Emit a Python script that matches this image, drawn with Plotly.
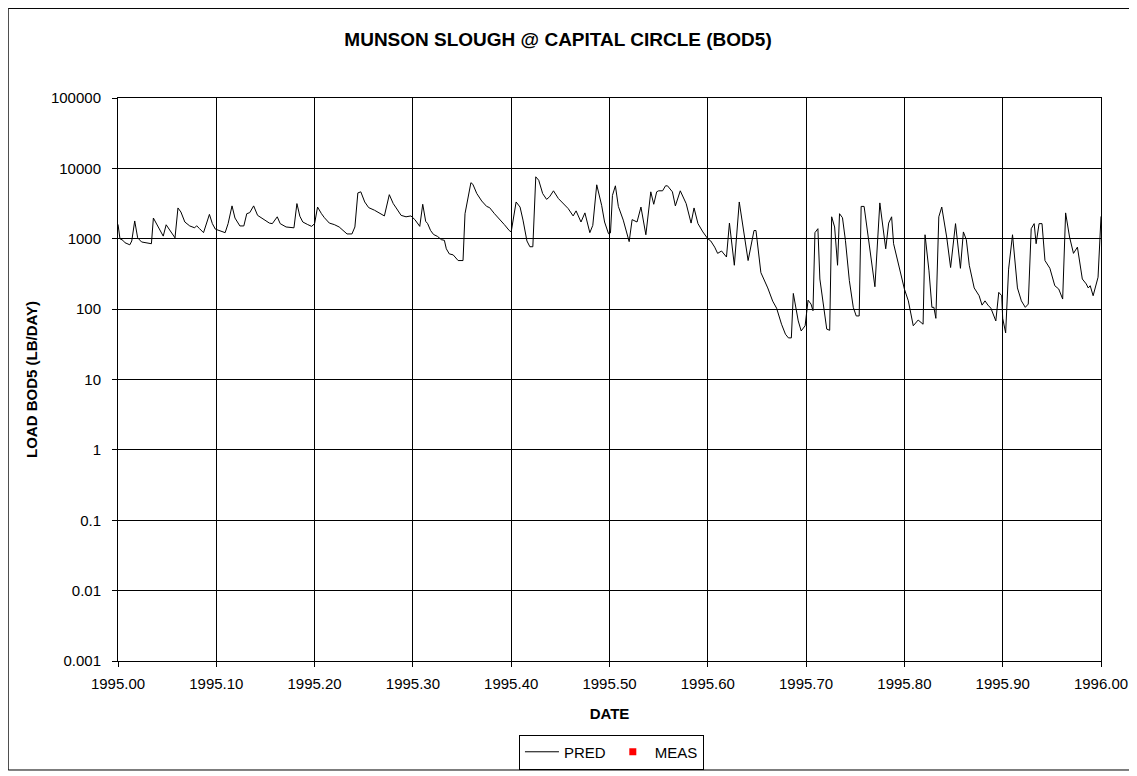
import plotly.graph_objects as go

# decimal-year dates and predicted load (lb/day)
date = [
    1995.000, 1995.002, 1995.005, 1995.007, 1995.012, 1995.014, 1995.017, 1995.020, 1995.024, 1995.029,
    1995.034, 1995.036, 1995.041, 1995.046, 1995.049, 1995.054, 1995.058, 1995.061, 1995.064, 1995.068,
    1995.073, 1995.078, 1995.080, 1995.083, 1995.087, 1995.093, 1995.096, 1995.099, 1995.103, 1995.109,
    1995.112, 1995.116, 1995.119, 1995.124, 1995.128, 1995.131, 1995.134, 1995.138, 1995.142, 1995.147,
    1995.154, 1995.157, 1995.162, 1995.165, 1995.171, 1995.179, 1995.182, 1995.185, 1995.188, 1995.193,
    1995.197, 1995.200, 1995.203, 1995.207, 1995.210, 1995.215, 1995.220, 1995.225, 1995.229, 1995.233,
    1995.238, 1995.241, 1995.244, 1995.247, 1995.251, 1995.255, 1995.261, 1995.266, 1995.271, 1995.276,
    1995.280, 1995.283, 1995.288, 1995.293, 1995.298, 1995.302, 1995.307, 1995.310, 1995.313, 1995.315,
    1995.318, 1995.321, 1995.325, 1995.329, 1995.332, 1995.334, 1995.337, 1995.341, 1995.346, 1995.351,
    1995.353, 1995.359, 1995.361, 1995.365, 1995.370, 1995.375, 1995.378, 1995.383, 1995.388, 1995.393,
    1995.398, 1995.400, 1995.405, 1995.409, 1995.412, 1995.416, 1995.419, 1995.422, 1995.425, 1995.428,
    1995.432, 1995.436, 1995.439, 1995.443, 1995.448, 1995.452, 1995.458, 1995.463, 1995.466, 1995.471,
    1995.475, 1995.480, 1995.483, 1995.487, 1995.492, 1995.495, 1995.499, 1995.501, 1995.503, 1995.506,
    1995.509, 1995.514, 1995.517, 1995.520, 1995.523, 1995.528, 1995.532, 1995.537, 1995.542, 1995.545,
    1995.548, 1995.550, 1995.554, 1995.557, 1995.559, 1995.564, 1995.567, 1995.572, 1995.578, 1995.583,
    1995.586, 1995.590, 1995.595, 1995.600, 1995.603, 1995.607, 1995.610, 1995.614, 1995.619, 1995.622,
    1995.627, 1995.632, 1995.641, 1995.647, 1995.649, 1995.652, 1995.654, 1995.661, 1995.666, 1995.670,
    1995.675, 1995.679, 1995.682, 1995.685, 1995.687, 1995.692, 1995.695, 1995.699, 1995.702, 1995.705,
    1995.707, 1995.709, 1995.712, 1995.714, 1995.718, 1995.721, 1995.724, 1995.726, 1995.729, 1995.732,
    1995.734, 1995.737, 1995.740, 1995.744, 1995.748, 1995.751, 1995.754, 1995.756, 1995.759, 1995.764,
    1995.770, 1995.775, 1995.781, 1995.784, 1995.787, 1995.789, 1995.795, 1995.800, 1995.804, 1995.809,
    1995.814, 1995.819, 1995.821, 1995.825, 1995.828, 1995.830, 1995.832, 1995.835, 1995.838, 1995.843,
    1995.847, 1995.852, 1995.857, 1995.860, 1995.863, 1995.866, 1995.871, 1995.876, 1995.879, 1995.882,
    1995.885, 1995.888, 1995.893, 1995.896, 1995.899, 1995.900, 1995.903, 1995.906, 1995.910, 1995.915,
    1995.919, 1995.923, 1995.926, 1995.929, 1995.932, 1995.934, 1995.937, 1995.940, 1995.943, 1995.945,
    1995.948, 1995.953, 1995.957, 1995.961, 1995.964, 1995.968, 1995.972, 1995.976, 1995.981, 1995.985,
    1995.987, 1995.989, 1995.992, 1995.997, 1996.000, 1996.003, 1996.005,
]
pred_load = [
    1600, 1000, 950, 880, 820, 930, 1790, 1030, 900, 870,
    850, 1970, 1500, 1090, 1580, 1250, 1030, 2740, 2400, 1730,
    1520, 1430, 1530, 1390, 1220, 2220, 1640, 1370, 1310, 1220,
    1640, 2930, 1970, 1520, 1520, 2270, 2350, 2930, 2150, 1930,
    1670, 1640, 2050, 1640, 1470, 1430, 3160, 2090, 1730, 1590,
    1500, 1640, 2820, 2270, 1990, 1670, 1590, 1470, 1310, 1170,
    1170, 1470, 4480, 4640, 3330, 2770, 2540, 2330, 2110, 4230,
    3160, 2740, 2150, 2050, 2110, 1870, 1500, 3090, 1770, 1640,
    1310, 1150, 1080, 970, 950, 720, 610, 590, 490, 490,
    2270, 6260, 5940, 4390, 3440, 2880, 2770, 2270, 1930, 1590,
    1310, 1250, 3330, 2820, 1840, 930, 770, 770, 7590, 6780,
    4390, 3630, 3940, 4800, 3730, 3230, 2680, 2110, 2490, 1730,
    2330, 1220, 1550, 5840, 2990, 1730, 1180, 1210, 4130, 5650,
    2880, 1840, 1310, 910, 1870, 1730, 2820, 1140, 4640, 3090,
    4640, 4800, 4800, 5650, 5650, 4640, 2930, 4800, 3160, 1670,
    2740, 1640, 1250, 1000, 930, 760, 620, 670, 550, 1670,
    420, 3330, 490, 1310, 1310, 520, 330, 200, 130, 103,
    61, 44, 39, 39, 167, 68, 49, 58, 134, 118,
    95, 1220, 1390, 268, 95, 52, 50, 2050, 1470, 420,
    2270, 1990, 950, 254, 106, 80, 80, 2880, 2880, 800,
    208, 3230, 720, 1670, 2050, 850, 370, 193, 131, 58,
    70, 61, 1140, 350, 106, 106, 74, 2050, 2820, 1060,
    390, 1640, 380, 1250, 970, 420, 200, 155, 114, 131,
    114, 103, 68, 173, 155, 74, 46, 370, 1140, 200,
    131, 106, 118, 1390, 1640, 850, 1640, 1640, 490, 440,
    380, 215, 193, 139, 2330, 1060, 620, 760, 268, 228,
    200, 215, 155, 284, 2050, 2330, 1100,
]
# measured series: legend entry only, no points on this chart
meas_date = [None]
meas_load = [None]

y_ticks = [0.001, 0.01, 0.1, 1, 10, 100, 1000, 10000, 100000]
y_labels = ['0.001', '0.01', '0.1', '1', '10', '100', '1000', '10000', '100000']
x_ticks = [1995.0 + i / 10 for i in range(11)]

FONT = 'Liberation Sans, Arial, sans-serif'

fig = go.Figure()
fig.add_trace(go.Scatter(x=date, y=pred_load, name='PRED', mode='lines',
                         line=dict(color='black', width=1)))
fig.add_trace(go.Scatter(x=meas_date, y=meas_load, name='MEAS', mode='markers',
                         marker=dict(symbol='square', color='red', size=7)))

# page body adds an 8px offset, so the figure is 8px smaller than the window
fig.update_layout(
    width=1129, height=768,
    margin=dict(l=110, r=36, t=90, b=115),
    paper_bgcolor='white', plot_bgcolor='white',
    font=dict(family=FONT, size=15, color='black'),
    title=dict(text='<b>MUNSON SLOUGH @ CAPITAL CIRCLE (BOD5)</b>',
               x=0.4872, xanchor='center', y=0.9596, yanchor='middle',
               font=dict(size=19, color='black')),
    showlegend=True,
    legend=dict(orientation='h', x=0.502, xanchor='center',
                yref='container', y=0.054, yanchor='top',
                bordercolor='black', borderwidth=1, bgcolor='white',
                font=dict(size=15), itemwidth=34),
    shapes=[dict(type='rect', xref='paper', yref='paper',
                 x0=-0.1117, x1=1.0292, y0=-0.1936, y1=1.1590,
                 line=dict(color='black', width=1), layer='below')],
)
fig.update_xaxes(range=[1995.0, 1996.0], tickvals=x_ticks, tickformat='.2f',
                 showgrid=True, gridcolor='black', gridwidth=1,
                 showline=True, linecolor='black', linewidth=1, mirror=True,
                 ticks='outside', ticklen=5, tickcolor='black', ticklabelstandoff=4,
                 zeroline=False, automargin=False,
                 title=dict(text='<b>DATE</b>', standoff=17, font=dict(size=15)))
fig.update_yaxes(type='log', range=[-3, 5], tickvals=y_ticks, ticktext=y_labels,
                 showgrid=True, gridcolor='black', gridwidth=1,
                 showline=True, linecolor='black', linewidth=1, mirror=True,
                 ticks='outside', ticklen=5, tickcolor='black', ticklabelstandoff=8,
                 zeroline=False, automargin=False,
                 title=dict(text='<b>LOAD BOD5 (LB/DAY)</b>', standoff=9, font=dict(size=15)))

fig.write_html("out.html")
